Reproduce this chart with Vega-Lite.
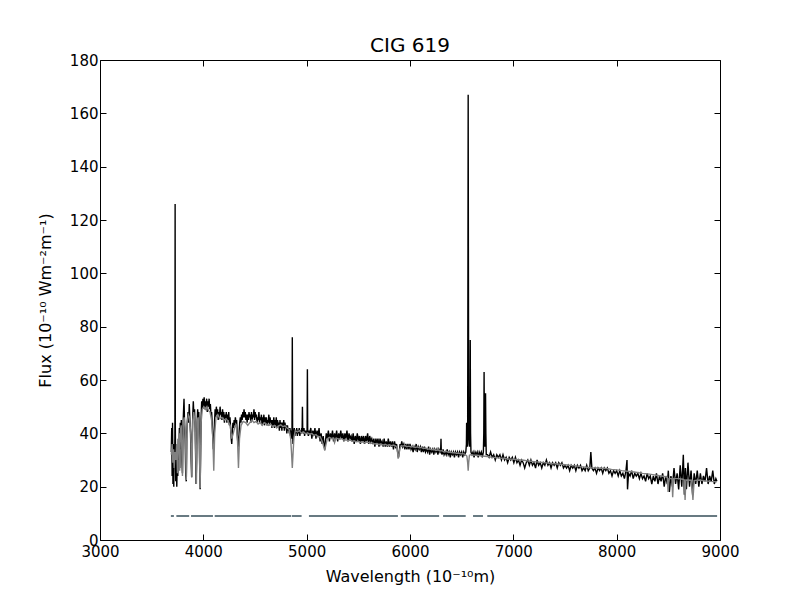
{
  "$schema": "https://vega.github.io/schema/vega-lite/v6.json",
  "width": 620,
  "height": 480,
  "autosize": "none",
  "padding": {"left": 100, "top": 60, "right": 80, "bottom": 60},
  "background": "white",
  "title": {"text": "CIG 619", "fontSize": 20, "fontWeight": "normal", "font": "DejaVu Sans", "color": "black", "offset": -3},
  "config": {
    "font": "DejaVu Sans",
    "view": {"stroke": "black", "strokeWidth": 1},
    "axis": {
      "grid": false, "domain": false, "tickColor": "black", "tickSize": -6, "tickWidth": 1, "labelFlush": false,
      "labelFont": "DejaVu Sans", "labelFontSize": 15, "labelColor": "black",
      "titleFont": "DejaVu Sans", "titleFontSize": 16, "titleFontWeight": "normal", "titleColor": "black"
    }
  },
  "datasets": {
    "obs": [
      {"w":3690,"f":33},{"w":3694,"f":42},{"w":3698,"f":24},{"w":3702,"f":44},{"w":3706,"f":21},{"w":3710,"f":36},{"w":3714,"f":20},{"w":3718,"f":34},{"w":3722,"f":27},{"w":3725,"f":40},{"w":3727,"f":126},{"w":3729,"f":42},{"w":3733,"f":22},{"w":3738,"f":35},{"w":3743,"f":20},{"w":3748,"f":30},{"w":3753,"f":24},{"w":3758,"f":38},{"w":3763,"f":30},{"w":3768,"f":42},{"w":3772,"f":27},{"w":3777,"f":44},{"w":3782,"f":34},{"w":3787,"f":45},{"w":3792,"f":30},{"w":3798,"f":25},{"w":3803,"f":42},{"w":3808,"f":48},{"w":3813,"f":53},{"w":3818,"f":44},{"w":3824,"f":38},{"w":3830,"f":24},{"w":3835,"f":22},{"w":3840,"f":40},{"w":3846,"f":45},{"w":3852,"f":48},{"w":3858,"f":44},{"w":3864,"f":51},{"w":3870,"f":45},{"w":3876,"f":40},{"w":3882,"f":30},{"w":3887,"f":23.5},{"w":3892,"f":38},{"w":3898,"f":47},{"w":3903,"f":52},{"w":3909,"f":46},{"w":3915,"f":49},{"w":3921,"f":42},{"w":3926,"f":30},{"w":3930,"f":21},{"w":3935,"f":30},{"w":3940,"f":44},{"w":3945,"f":49},{"w":3950,"f":46},{"w":3956,"f":48},{"w":3962,"f":36},{"w":3966,"f":24},{"w":3969,"f":19},{"w":3973,"f":30},{"w":3978,"f":45},{"w":3984,"f":52},{"w":3990,"f":49},{"w":3996,"f":53},{"w":4002,"f":50},{"w":4008,"f":53.5},{"w":4014,"f":49},{"w":4020,"f":52},{"w":4026,"f":50},{"w":4032,"f":53},{"w":4038,"f":48},{"w":4044,"f":52},{"w":4050,"f":50},{"w":4056,"f":53},{"w":4062,"f":49},{"w":4068,"f":51},{"w":4074,"f":47},{"w":4080,"f":48},{"w":4086,"f":44},{"w":4092,"f":38},{"w":4097,"f":34},{"w":4102,"f":37},{"w":4108,"f":44},{"w":4114,"f":49},{"w":4120,"f":46},{"w":4126,"f":50},{"w":4132,"f":47},{"w":4138,"f":49},{"w":4144,"f":45},{"w":4150,"f":48},{"w":4156,"f":46},{"w":4162,"f":50},{"w":4168,"f":47},{"w":4174,"f":48},{"w":4180,"f":45},{"w":4186,"f":49},{"w":4192,"f":46},{"w":4198,"f":48},{"w":4204,"f":44},{"w":4210,"f":47},{"w":4216,"f":45},{"w":4222,"f":48},{"w":4228,"f":44},{"w":4234,"f":47},{"w":4240,"f":45},{"w":4246,"f":48},{"w":4252,"f":43},{"w":4258,"f":46},{"w":4264,"f":42},{"w":4270,"f":38},{"w":4275,"f":36},{"w":4280,"f":40},{"w":4286,"f":44},{"w":4292,"f":42},{"w":4298,"f":45},{"w":4304,"f":43},{"w":4310,"f":46},{"w":4316,"f":44},{"w":4322,"f":45},{"w":4328,"f":40},{"w":4334,"f":36},{"w":4340,"f":35},{"w":4346,"f":40},{"w":4352,"f":44},{"w":4358,"f":46},{"w":4364,"f":44},{"w":4370,"f":47},{"w":4376,"f":45},{"w":4382,"f":48},{"w":4388,"f":46},{"w":4394,"f":49},{"w":4400,"f":46},{"w":4406,"f":48},{"w":4412,"f":45},{"w":4418,"f":47},{"w":4424,"f":44},{"w":4430,"f":47},{"w":4436,"f":45},{"w":4442,"f":48},{"w":4448,"f":46},{"w":4454,"f":47},{"w":4460,"f":44},{"w":4466,"f":48},{"w":4472,"f":45},{"w":4478,"f":47},{"w":4484,"f":46},{"w":4490,"f":49},{"w":4496,"f":45},{"w":4502,"f":48},{"w":4508,"f":46},{"w":4514,"f":47},{"w":4520,"f":44},{"w":4526,"f":46},{"w":4532,"f":45},{"w":4538,"f":48},{"w":4544,"f":44},{"w":4550,"f":46},{"w":4556,"f":45},{"w":4562,"f":47},{"w":4568,"f":43},{"w":4574,"f":46},{"w":4580,"f":44},{"w":4586,"f":47},{"w":4592,"f":43},{"w":4598,"f":46},{"w":4604,"f":44},{"w":4610,"f":46},{"w":4616,"f":43},{"w":4622,"f":45},{"w":4628,"f":44},{"w":4634,"f":47},{"w":4640,"f":43},{"w":4646,"f":46},{"w":4652,"f":44},{"w":4658,"f":45},{"w":4664,"f":42},{"w":4670,"f":45},{"w":4676,"f":43},{"w":4682,"f":46},{"w":4688,"f":42},{"w":4694,"f":45},{"w":4700,"f":43},{"w":4706,"f":46},{"w":4712,"f":42},{"w":4718,"f":45},{"w":4724,"f":43},{"w":4730,"f":44},{"w":4736,"f":41},{"w":4742,"f":45},{"w":4748,"f":42},{"w":4754,"f":44},{"w":4760,"f":41},{"w":4766,"f":44},{"w":4772,"f":42},{"w":4778,"f":45},{"w":4784,"f":41},{"w":4790,"f":44},{"w":4796,"f":42},{"w":4802,"f":43},{"w":4808,"f":40},{"w":4814,"f":43},{"w":4820,"f":41},{"w":4826,"f":42},{"w":4832,"f":40},{"w":4838,"f":42},{"w":4844,"f":39},{"w":4850,"f":41},{"w":4855,"f":38},{"w":4858,"f":40},{"w":4861,"f":76},{"w":4864,"f":40},{"w":4868,"f":36},{"w":4874,"f":40},{"w":4880,"f":42},{"w":4886,"f":39},{"w":4892,"f":41},{"w":4898,"f":40},{"w":4904,"f":42},{"w":4910,"f":39},{"w":4916,"f":41},{"w":4922,"f":40},{"w":4928,"f":42},{"w":4934,"f":39},{"w":4940,"f":41},{"w":4946,"f":40},{"w":4952,"f":42},{"w":4956,"f":41},{"w":4959,"f":50},{"w":4962,"f":41},{"w":4968,"f":40},{"w":4974,"f":42},{"w":4980,"f":39},{"w":4986,"f":41},{"w":4992,"f":40},{"w":4998,"f":41},{"w":5004,"f":40},{"w":5007,"f":64},{"w":5010,"f":41},{"w":5016,"f":39},{"w":5022,"f":41},
      {"w":5030,"f":40},{"w":5040,"f":42},{"w":5050,"f":38},{"w":5060,"f":41},{"w":5070,"f":39},{"w":5080,"f":42},{"w":5090,"f":38},{"w":5100,"f":41},{"w":5110,"f":39},{"w":5120,"f":42},{"w":5130,"f":37},{"w":5140,"f":40},{"w":5150,"f":36},{"w":5160,"f":39},{"w":5170,"f":35},{"w":5176,"f":34},{"w":5182,"f":37},{"w":5190,"f":40},{"w":5200,"f":38},{"w":5210,"f":41},{"w":5220,"f":37},{"w":5230,"f":40},{"w":5240,"f":38},{"w":5250,"f":41},{"w":5260,"f":37},{"w":5270,"f":40},{"w":5280,"f":38},{"w":5290,"f":41},{"w":5300,"f":37},{"w":5310,"f":40},{"w":5320,"f":38},{"w":5330,"f":41},{"w":5340,"f":38},{"w":5350,"f":40},{"w":5360,"f":37},{"w":5370,"f":40},{"w":5380,"f":38},{"w":5390,"f":41},{"w":5400,"f":37},{"w":5410,"f":40},{"w":5420,"f":38},{"w":5430,"f":39},{"w":5440,"f":37},{"w":5450,"f":40},{"w":5460,"f":36},{"w":5470,"f":39},{"w":5480,"f":37},{"w":5490,"f":40},{"w":5500,"f":37},{"w":5510,"f":39},{"w":5520,"f":36},{"w":5530,"f":39},{"w":5540,"f":37},{"w":5550,"f":39},{"w":5560,"f":36},{"w":5570,"f":39},{"w":5580,"f":37},{"w":5590,"f":40},{"w":5600,"f":36},{"w":5610,"f":39},{"w":5620,"f":37},{"w":5630,"f":38},{"w":5640,"f":36},{"w":5650,"f":38},{"w":5660,"f":35},{"w":5670,"f":38},{"w":5680,"f":36},{"w":5690,"f":38},{"w":5700,"f":35},{"w":5710,"f":38},{"w":5720,"f":36},{"w":5730,"f":37},{"w":5740,"f":35},{"w":5750,"f":38},{"w":5760,"f":35},{"w":5770,"f":37},{"w":5780,"f":35},{"w":5790,"f":38},{"w":5800,"f":35},{"w":5810,"f":37},{"w":5820,"f":35},{"w":5830,"f":37},{"w":5840,"f":34},{"w":5850,"f":37},{"w":5860,"f":35},{"w":5870,"f":36},{"w":5880,"f":33},{"w":5888,"f":31},{"w":5896,"f":33},{"w":5904,"f":36},{"w":5912,"f":35},{"w":5920,"f":37},{"w":5930,"f":35},{"w":5940,"f":36},{"w":5950,"f":34},{"w":5960,"f":36},{"w":5970,"f":34},{"w":5980,"f":36},{"w":5990,"f":34},{"w":6000,"f":36},{"w":6010,"f":34},{"w":6020,"f":35},{"w":6030,"f":33},{"w":6040,"f":35},{"w":6050,"f":34},{"w":6060,"f":36},{"w":6070,"f":33},{"w":6080,"f":35},{"w":6090,"f":34},{"w":6100,"f":35},{"w":6110,"f":33},{"w":6120,"f":35},{"w":6130,"f":33},{"w":6140,"f":35},{"w":6150,"f":33},{"w":6160,"f":34},{"w":6170,"f":33},{"w":6180,"f":35},{"w":6190,"f":32},{"w":6200,"f":34},{"w":6210,"f":33},{"w":6220,"f":34},{"w":6230,"f":32},{"w":6240,"f":34},{"w":6250,"f":33},{"w":6260,"f":34},{"w":6270,"f":32},{"w":6280,"f":34},{"w":6290,"f":33},{"w":6297,"f":34},{"w":6300,"f":38},{"w":6303,"f":33},{"w":6310,"f":32},{"w":6320,"f":34},{"w":6330,"f":32},{"w":6340,"f":33},{"w":6350,"f":32},{"w":6360,"f":34},{"w":6370,"f":32},{"w":6380,"f":33},{"w":6390,"f":31},{"w":6400,"f":33},{"w":6410,"f":32},{"w":6420,"f":33},{"w":6430,"f":31},{"w":6440,"f":33},{"w":6450,"f":32},{"w":6460,"f":33},{"w":6470,"f":31},{"w":6480,"f":33},{"w":6490,"f":32},{"w":6500,"f":33},{"w":6510,"f":31},{"w":6520,"f":33},{"w":6530,"f":32},{"w":6540,"f":33},{"w":6546,"f":36},{"w":6548,"f":44},{"w":6551,"f":38},{"w":6555,"f":35},{"w":6558,"f":40},{"w":6561,"f":110},{"w":6563,"f":167},{"w":6565,"f":110},{"w":6568,"f":40},{"w":6572,"f":36},{"w":6576,"f":35},{"w":6580,"f":40},{"w":6583,"f":75},{"w":6586,"f":40},{"w":6590,"f":33},{"w":6600,"f":32},{"w":6610,"f":33},{"w":6620,"f":31},{"w":6630,"f":33},{"w":6640,"f":32},{"w":6650,"f":33},{"w":6660,"f":31},{"w":6670,"f":33},{"w":6680,"f":32},{"w":6690,"f":33},{"w":6700,"f":31},{"w":6710,"f":33},{"w":6714,"f":40},{"w":6717,"f":63},{"w":6720,"f":40},{"w":6724,"f":35},{"w":6728,"f":40},{"w":6731,"f":55},{"w":6734,"f":40},{"w":6738,"f":32},
      {"w":6750,"f":32},{"w":6765,"f":31},{"w":6780,"f":33},{"w":6795,"f":31},{"w":6810,"f":32},{"w":6825,"f":30},{"w":6840,"f":32},{"w":6855,"f":31},{"w":6870,"f":32},{"w":6885,"f":30},{"w":6900,"f":32},{"w":6915,"f":30},{"w":6930,"f":31},{"w":6945,"f":29},{"w":6960,"f":31},{"w":6975,"f":30},{"w":6990,"f":31},{"w":7005,"f":29},{"w":7020,"f":31},{"w":7035,"f":29},{"w":7050,"f":30},{"w":7065,"f":28},{"w":7080,"f":30},{"w":7095,"f":29},{"w":7110,"f":27},{"w":7125,"f":29},{"w":7140,"f":30},{"w":7155,"f":28},{"w":7170,"f":30},{"w":7185,"f":28},{"w":7200,"f":29},{"w":7215,"f":27},{"w":7230,"f":30},{"w":7245,"f":28},{"w":7260,"f":29},{"w":7275,"f":27},{"w":7290,"f":29},{"w":7305,"f":28},{"w":7320,"f":30},{"w":7335,"f":28},{"w":7350,"f":29},{"w":7365,"f":27},{"w":7380,"f":29},{"w":7395,"f":28},{"w":7410,"f":29},{"w":7425,"f":27},{"w":7440,"f":29},{"w":7455,"f":28},{"w":7470,"f":29},{"w":7485,"f":27},{"w":7500,"f":28},{"w":7515,"f":27},{"w":7530,"f":28},{"w":7545,"f":26},{"w":7560,"f":28},{"w":7575,"f":27},{"w":7590,"f":28},{"w":7605,"f":26},{"w":7620,"f":28},{"w":7635,"f":27},{"w":7650,"f":28},{"w":7665,"f":26},{"w":7680,"f":27},{"w":7695,"f":26},{"w":7710,"f":28},{"w":7725,"f":26},{"w":7740,"f":27},{"w":7750,"f":33},{"w":7760,"f":27},{"w":7775,"f":26},{"w":7790,"f":27},{"w":7805,"f":25},{"w":7820,"f":27},{"w":7835,"f":26},{"w":7850,"f":27},{"w":7865,"f":25},{"w":7880,"f":27},{"w":7895,"f":26},{"w":7910,"f":27},{"w":7925,"f":25},{"w":7940,"f":26},{"w":7955,"f":24},{"w":7970,"f":26},{"w":7985,"f":25},{"w":8000,"f":26},{"w":8015,"f":24},{"w":8030,"f":26},{"w":8045,"f":24},{"w":8060,"f":25},{"w":8075,"f":23},{"w":8090,"f":26},{"w":8100,"f":30},{"w":8105,"f":19},{"w":8115,"f":25},{"w":8130,"f":24},{"w":8145,"f":26},{"w":8160,"f":23},{"w":8175,"f":25},{"w":8190,"f":24},{"w":8205,"f":25},{"w":8220,"f":23},{"w":8235,"f":25},{"w":8250,"f":23},{"w":8265,"f":24},{"w":8280,"f":22},{"w":8295,"f":25},{"w":8310,"f":23},{"w":8325,"f":24},{"w":8340,"f":21},{"w":8355,"f":24},{"w":8370,"f":22},{"w":8385,"f":25},{"w":8400,"f":21},{"w":8415,"f":24},{"w":8430,"f":22},{"w":8445,"f":25},{"w":8460,"f":20},{"w":8475,"f":24},{"w":8490,"f":21},{"w":8500,"f":26},{"w":8510,"f":18},{"w":8525,"f":24},{"w":8540,"f":20},{"w":8555,"f":27},{"w":8570,"f":21},{"w":8585,"f":25},{"w":8600,"f":19},{"w":8615,"f":28},{"w":8630,"f":20},{"w":8645,"f":32},{"w":8655,"f":17},{"w":8665,"f":27},{"w":8675,"f":19},{"w":8690,"f":29},{"w":8705,"f":20},{"w":8720,"f":26},{"w":8735,"f":17},{"w":8750,"f":25},{"w":8765,"f":21},{"w":8780,"f":26},{"w":8795,"f":20},{"w":8810,"f":25},{"w":8825,"f":21},{"w":8840,"f":24},{"w":8855,"f":22},{"w":8870,"f":27},{"w":8885,"f":21},{"w":8900,"f":24},{"w":8915,"f":22},{"w":8930,"f":26},{"w":8945,"f":21},{"w":8960,"f":23},{"w":8970,"f":22}
    ],
    "mod": [
      {"w":3690,"f":32},{"w":3698,"f":36},{"w":3705,"f":29},{"w":3712,"f":34},{"w":3718,"f":27},{"w":3725,"f":33},{"w":3734,"f":30},{"w":3742,"f":36},{"w":3750,"f":25},{"w":3758,"f":37},{"w":3766,"f":40},{"w":3771,"f":26},{"w":3778,"f":41},{"w":3786,"f":43},{"w":3798,"f":24},{"w":3806,"f":44},{"w":3815,"f":46},{"w":3826,"f":40},{"w":3835,"f":22.5},{"w":3844,"f":44},{"w":3855,"f":47},{"w":3866,"f":46},{"w":3878,"f":40},{"w":3889,"f":23.5},{"w":3898,"f":45},{"w":3907,"f":48},{"w":3920,"f":44},{"w":3933,"f":21},{"w":3942,"f":45},{"w":3950,"f":46},{"w":3960,"f":38},{"w":3969,"f":19.5},{"w":3978,"f":44},{"w":3990,"f":49},{"w":4005,"f":50},{"w":4020,"f":49},{"w":4035,"f":50},{"w":4050,"f":48.5},{"w":4065,"f":48},{"w":4080,"f":45},{"w":4092,"f":38},{"w":4101,"f":26},{"w":4110,"f":40},{"w":4122,"f":46},{"w":4140,"f":47},{"w":4160,"f":45.5},{"w":4180,"f":46},{"w":4200,"f":45},{"w":4220,"f":45.5},{"w":4240,"f":44.5},{"w":4260,"f":43},{"w":4275,"f":38},{"w":4290,"f":40},{"w":4305,"f":42.5},{"w":4318,"f":43},{"w":4330,"f":38},{"w":4340,"f":27},{"w":4350,"f":38},{"w":4365,"f":43},{"w":4385,"f":44.5},{"w":4410,"f":44},{"w":4430,"f":43},{"w":4450,"f":44},{"w":4470,"f":45},{"w":4490,"f":44},{"w":4510,"f":44.5},{"w":4530,"f":43.5},{"w":4550,"f":44},{"w":4570,"f":43},{"w":4590,"f":44},{"w":4610,"f":43.5},{"w":4630,"f":43},{"w":4650,"f":43.5},{"w":4670,"f":42.5},{"w":4690,"f":43},{"w":4710,"f":42},{"w":4730,"f":42.8},{"w":4750,"f":43.2},{"w":4770,"f":42.5},{"w":4790,"f":42.8},{"w":4810,"f":42},{"w":4830,"f":41.5},{"w":4845,"f":38},{"w":4853,"f":33},{"w":4861,"f":27},{"w":4869,"f":33},{"w":4877,"f":38.5},{"w":4890,"f":41},{"w":4910,"f":40.5},{"w":4930,"f":41},{"w":4950,"f":40},{"w":4970,"f":40.5},{"w":4990,"f":39.8},{"w":5010,"f":40.2},{"w":5030,"f":39.5},{"w":5050,"f":40},{"w":5070,"f":39.2},{"w":5090,"f":39.5},{"w":5110,"f":38.6},{"w":5130,"f":38.8},{"w":5150,"f":37},{"w":5165,"f":35},{"w":5175,"f":33.5},{"w":5185,"f":35.5},{"w":5200,"f":38},{"w":5220,"f":38.5},{"w":5240,"f":38},{"w":5260,"f":38.3},{"w":5270,"f":36.5},{"w":5285,"f":38.2},{"w":5300,"f":38},{"w":5320,"f":37.8},{"w":5340,"f":38},{"w":5360,"f":37.4},{"w":5380,"f":37.6},{"w":5400,"f":37.2},{"w":5420,"f":37.5},{"w":5440,"f":37},{"w":5460,"f":37.2},{"w":5480,"f":36.8},{"w":5500,"f":37},{"w":5520,"f":36.6},{"w":5540,"f":36.8},{"w":5560,"f":36.4},{"w":5580,"f":36.7},{"w":5600,"f":36.5},{"w":5620,"f":36.2},{"w":5640,"f":36.4},{"w":5660,"f":36},{"w":5680,"f":36.2},{"w":5700,"f":35.8},{"w":5720,"f":36},{"w":5740,"f":35.6},{"w":5760,"f":35.9},{"w":5780,"f":35.5},{"w":5800,"f":35.7},{"w":5820,"f":35.4},{"w":5840,"f":35.6},{"w":5860,"f":35.3},{"w":5875,"f":34.8},{"w":5885,"f":30.5},{"w":5893,"f":31.5},{"w":5900,"f":34},{"w":5915,"f":35.4},{"w":5930,"f":35.2},{"w":5950,"f":35.4},{"w":5970,"f":35},{"w":5990,"f":35.2},{"w":6010,"f":34.9},{"w":6030,"f":35.1},{"w":6050,"f":34.7},{"w":6070,"f":34.9},{"w":6090,"f":34.6},{"w":6110,"f":34.7},{"w":6130,"f":34.3},{"w":6150,"f":34.5},{"w":6170,"f":34},{"w":6190,"f":34.2},{"w":6210,"f":33.8},{"w":6230,"f":34},{"w":6250,"f":33.6},{"w":6270,"f":33.8},{"w":6290,"f":33.4},{"w":6310,"f":33.5},{"w":6330,"f":33},{"w":6350,"f":33.2},{"w":6370,"f":32.9},{"w":6390,"f":33},{"w":6410,"f":32.7},{"w":6430,"f":32.8},{"w":6450,"f":32.5},{"w":6470,"f":32.6},{"w":6490,"f":32.3},{"w":6510,"f":32.4},{"w":6530,"f":32.2},{"w":6550,"f":31.5},{"w":6558,"f":29},{"w":6563,"f":26},{"w":6568,"f":29},{"w":6575,"f":31.8},{"w":6590,"f":32},{"w":6610,"f":31.9},{"w":6650,"f":31.8},{"w":6700,"f":31.5},{"w":6750,"f":31.3},{"w":6800,"f":31},{"w":6850,"f":30.8},{"w":6900,"f":30.6},{"w":6950,"f":30.4},{"w":7000,"f":30.3},{"w":7050,"f":30.1},{"w":7100,"f":29.9},{"w":7150,"f":29.6},{"w":7200,"f":29.4},{"w":7250,"f":29.2},{"w":7300,"f":29},{"w":7350,"f":28.8},{"w":7400,"f":28.6},{"w":7450,"f":28.4},{"w":7500,"f":28.2},{"w":7550,"f":28},{"w":7600,"f":27.8},{"w":7650,"f":27.5},{"w":7700,"f":27.3},{"w":7750,"f":27.1},{"w":7800,"f":27},{"w":7850,"f":26.9},{"w":7900,"f":26.8},{"w":7950,"f":26.5},{"w":8000,"f":26.3},{"w":8050,"f":26},{"w":8100,"f":25.8},{"w":8150,"f":25.6},{"w":8200,"f":25.3},{"w":8250,"f":25},{"w":8300,"f":24.8},{"w":8350,"f":24.5},{"w":8400,"f":24.2},{"w":8450,"f":23.9},{"w":8490,"f":23.5},{"w":8498,"f":18},{"w":8506,"f":23},{"w":8535,"f":23},{"w":8542,"f":16},{"w":8550,"f":23},{"w":8600,"f":23},{"w":8640,"f":22.8},{"w":8655,"f":22.5},{"w":8662,"f":15},{"w":8670,"f":22.5},{"w":8725,"f":22.4},{"w":8738,"f":15},{"w":8750,"f":22.3},{"w":8800,"f":22.5},{"w":8850,"f":22.2},{"w":8900,"f":22},{"w":8950,"f":21.9},{"w":8970,"f":21.8}
    ],
    "mask": [
      {"a":3686,"b":3715},{"a":3739,"b":3863},{"a":3881,"b":4093},{"a":4110,"b":4851},{"a":4858,"b":4951},{"a":5022,"b":5883},{"a":5911,"b":6282},{"a":6320,"b":6539},{"a":6610,"b":6706},{"a":6748,"b":8972}
    ]
  },
  "resolve": {"axis": {"x": "independent", "y": "independent"}},
  "layer": [
    {
      "data": {"name": "mask"},
      "mark": {"type": "rule", "color": "#687a82", "strokeWidth": 2},
      "encoding": {
        "x": {"field": "a", "type": "quantitative", "scale": {"domain": [3000, 9000], "nice": false},
              "axis": {"title": "Wavelength (10⁻¹⁰m)", "values": [3000, 4000, 5000, 6000, 7000, 8000, 9000], "format": "d", "labelPadding": 10, "titlePadding": 9}},
        "x2": {"field": "b"},
        "y": {"datum": 9, "type": "quantitative", "scale": {"domain": [0, 180], "nice": false},
              "axis": {"title": "Flux (10⁻¹⁰ Wm⁻²m⁻¹)", "values": [0, 20, 40, 60, 80, 100, 120, 140, 160, 180], "labelPadding": 8, "titlePadding": 16}}
      }
    },
    {
      "data": {"name": "obs"},
      "mark": {"type": "line", "color": "black", "strokeWidth": 1.4, "clip": true},
      "encoding": {
        "x": {"field": "w", "type": "quantitative", "axis": null},
        "y": {"field": "f", "type": "quantitative", "axis": null}
      }
    },
    {
      "data": {"name": "mod"},
      "mark": {"type": "line", "color": "#808080", "strokeWidth": 1.4, "clip": true},
      "encoding": {
        "x": {"field": "w", "type": "quantitative",
              "axis": {"orient": "top", "labels": false, "title": null, "values": [3000, 4000, 5000, 6000, 7000, 8000, 9000]}},
        "y": {"field": "f", "type": "quantitative",
              "axis": {"orient": "right", "labels": false, "title": null, "values": [0, 20, 40, 60, 80, 100, 120, 140, 160, 180]}}
      }
    }
  ]
}
